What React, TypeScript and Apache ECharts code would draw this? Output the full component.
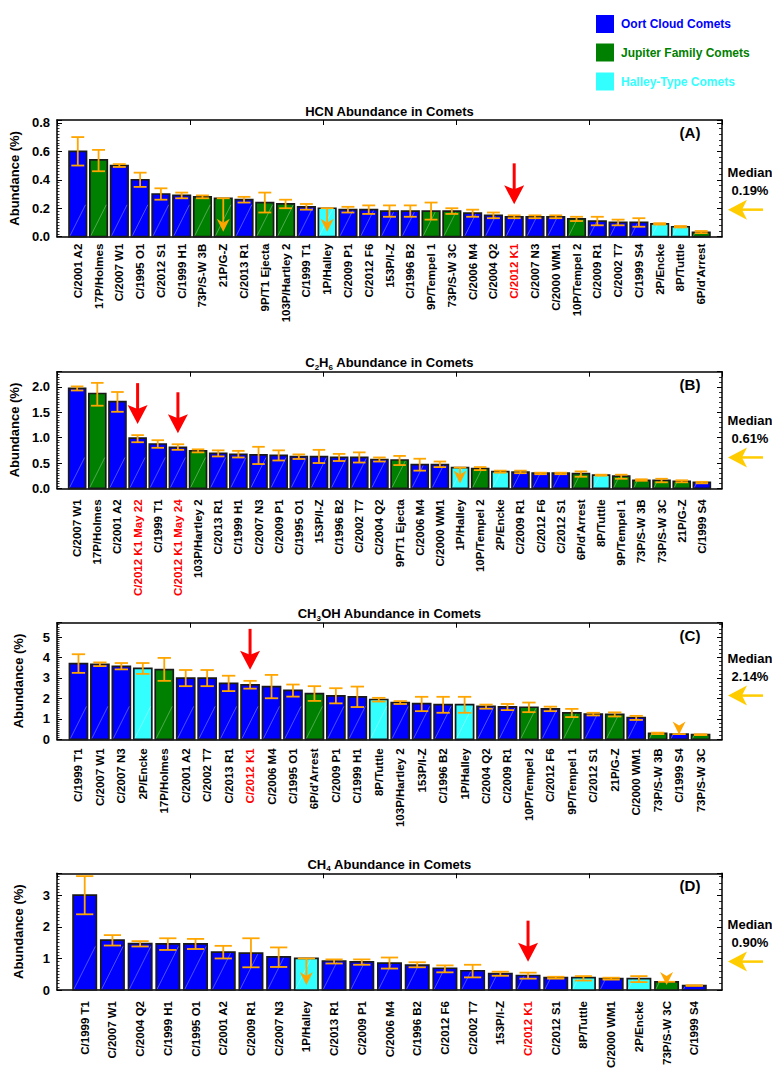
import React, { useEffect, useRef } from 'react';
import * as echarts from 'echarts';

// ---------- DATA ----------
// Comet type codes: O = Oort Cloud, J = Jupiter Family, H = Halley-Type
const hcnNames = ['C/2001 A2', '17P/Holmes', 'C/2007 W1', 'C/1995 O1', 'C/2012 S1', 'C/1999 H1', '73P/S-W 3B', '21P/G-Z', 'C/2013 R1', '9P/T1 Ejecta', '103P/Hartley 2', 'C/1999 T1', '1P/Halley', 'C/2009 P1', 'C/2012 F6', '153P/I-Z', 'C/1996 B2', '9P/Tempel 1', '73P/S-W 3C', 'C/2006 M4', 'C/2004 Q2', 'C/2012 K1', 'C/2007 N3', 'C/2000 WM1', '10P/Tempel 2', 'C/2009 R1', 'C/2002 T7', 'C/1999 S4', '2P/Encke', '8P/Tuttle', "6P/d'Arrest"];
const hcnValues = [0.60, 0.54, 0.50, 0.40, 0.30, 0.29, 0.28, 0.27, 0.26, 0.24, 0.23, 0.21, 0.20, 0.19, 0.19, 0.18, 0.18, 0.18, 0.18, 0.165, 0.15, 0.14, 0.14, 0.14, 0.125, 0.11, 0.10, 0.10, 0.09, 0.07, 0.03];
const hcnLow = [0.50, 0.46, 0.49, 0.35, 0.26, 0.27, 0.27, null, 0.24, 0.17, 0.20, 0.19, null, 0.17, 0.16, 0.14, 0.14, 0.12, 0.16, 0.14, 0.13, 0.13, 0.13, 0.13, 0.11, 0.08, 0.08, 0.07, 0.085, 0.065, 0.025];
const hcnHigh = [0.70, 0.61, 0.51, 0.45, 0.34, 0.31, 0.29, 0.27, 0.28, 0.31, 0.26, 0.23, 0.20, 0.21, 0.22, 0.22, 0.22, 0.24, 0.20, 0.19, 0.17, 0.15, 0.15, 0.15, 0.14, 0.14, 0.12, 0.13, 0.095, 0.075, 0.04];
const hcnTypes = ['O', 'J', 'O', 'O', 'O', 'O', 'J', 'J', 'O', 'J', 'J', 'O', 'H', 'O', 'O', 'O', 'O', 'J', 'J', 'O', 'O', 'O', 'O', 'O', 'J', 'O', 'O', 'O', 'H', 'H', 'J'];
const hcnMedian = 0.19;
const hcnTicks = [0, 0.2, 0.4, 0.6, 0.8];

const c2h6Names = ['C/2007 W1', '17P/Holmes', 'C/2001 A2', 'C/2012 K1 May 22', 'C/1999 T1', 'C/2012 K1 May 24', '103P/Hartley 2', 'C/2013 R1', 'C/1999 H1', 'C/2007 N3', 'C/2009 P1', 'C/1995 O1', '153P/I-Z', 'C/1996 B2', 'C/2002 T7', 'C/2004 Q2', '9P/T1 Ejecta', 'C/2006 M4', 'C/2000 WM1', '1P/Halley', '10P/Tempel 2', '2P/Encke', 'C/2009 R1', 'C/2012 F6', 'C/2012 S1', "6P/d'Arrest", '8P/Tuttle', '9P/Tempel 1', '73P/S-W 3B', '73P/S-W 3C', '21P/G-Z', 'C/1999 S4'];
const c2h6Values = [1.97, 1.87, 1.71, 0.99, 0.875, 0.81, 0.74, 0.69, 0.67, 0.66, 0.65, 0.625, 0.625, 0.61, 0.61, 0.57, 0.56, 0.47, 0.47, 0.41, 0.39, 0.33, 0.32, 0.30, 0.30, 0.29, 0.26, 0.24, 0.16, 0.16, 0.14, 0.12];
const c2h6Low = [1.93, 1.63, 1.51, 0.91, 0.80, 0.76, 0.71, 0.63, 0.61, 0.48, 0.55, 0.58, 0.50, 0.54, 0.51, 0.53, 0.46, 0.35, 0.42, null, 0.36, 0.31, 0.30, 0.28, 0.28, 0.23, 0.25, 0.19, 0.15, 0.12, 0.12, 0.10];
const c2h6High = [2.01, 2.08, 1.90, 1.05, 0.95, 0.87, 0.77, 0.75, 0.74, 0.82, 0.75, 0.67, 0.76, 0.68, 0.71, 0.61, 0.64, 0.585, 0.53, 0.41, 0.42, 0.35, 0.35, 0.31, 0.31, 0.335, 0.27, 0.27, 0.18, 0.19, 0.16, 0.13];
const c2h6Types = ['O', 'J', 'O', 'O', 'O', 'O', 'J', 'O', 'O', 'O', 'O', 'O', 'O', 'O', 'O', 'O', 'J', 'O', 'O', 'H', 'J', 'H', 'O', 'O', 'O', 'J', 'H', 'J', 'J', 'J', 'J', 'O'];
const c2h6Median = 0.61;
const c2h6Ticks = [0, 0.5, 1.0, 1.5, 2.0];

const ch3ohNames = ['C/1999 T1', 'C/2007 W1', 'C/2007 N3', '2P/Encke', '17P/Holmes', 'C/2001 A2', 'C/2002 T7', 'C/2013 R1', 'C/2012 K1', 'C/2006 M4', 'C/1995 O1', "6P/d'Arrest", 'C/2009 P1', 'C/1999 H1', '8P/Tuttle', '103P/Hartley 2', '153P/I-Z', 'C/1996 B2', '1P/Halley', 'C/2004 Q2', 'C/2009 R1', '10P/Tempel 2', 'C/2012 F6', '9P/Tempel 1', 'C/2012 S1', '21P/G-Z', 'C/2000 WM1', '73P/S-W 3B', 'C/1999 S4', '73P/S-W 3C'];
const ch3ohValues = [3.70, 3.67, 3.57, 3.47, 3.41, 2.99, 2.99, 2.74, 2.66, 2.58, 2.39, 2.24, 2.13, 2.08, 1.95, 1.80, 1.75, 1.70, 1.70, 1.61, 1.59, 1.57, 1.49, 1.30, 1.23, 1.22, 1.07, 0.29, 0.26, 0.23];
const ch3ohLow = [3.25, 3.58, 3.42, 3.20, 2.86, 2.60, 2.60, 2.36, 2.48, 2.01, 2.09, 1.88, 1.76, 1.58, 1.85, 1.73, 1.38, 1.30, 1.30, 1.50, 1.43, 1.33, 1.38, 1.09, 1.17, 1.12, 0.95, 0.26, null, 0.21];
const ch3ohHigh = [4.16, 3.76, 3.73, 3.73, 3.98, 3.39, 3.39, 3.11, 2.86, 3.15, 2.68, 2.60, 2.50, 2.58, 2.03, 1.87, 2.08, 2.08, 2.08, 1.70, 1.73, 1.80, 1.60, 1.49, 1.30, 1.32, 1.15, 0.33, 0.26, 0.25];
const ch3ohTypes = ['O', 'O', 'O', 'H', 'J', 'O', 'O', 'O', 'O', 'O', 'O', 'J', 'O', 'O', 'H', 'O', 'O', 'O', 'H', 'O', 'O', 'J', 'O', 'J', 'O', 'J', 'O', 'J', 'O', 'J'];
const ch3ohMedian = 2.14;
const ch3ohTicks = [0, 1, 2, 3, 4, 5];

const ch4Names = ['C/1999 T1', 'C/2007 W1', 'C/2004 Q2', 'C/1999 H1', 'C/1995 O1', 'C/2001 A2', 'C/2009 R1', 'C/2007 N3', '1P/Halley', 'C/2013 R1', 'C/2009 P1', 'C/2006 M4', 'C/1996 B2', 'C/2012 F6', 'C/2002 T7', '153P/I-Z', 'C/2012 K1', 'C/2012 S1', '8P/Tuttle', 'C/2000 WM1', '2P/Encke', '73P/S-W 3C', 'C/1999 S4'];
const ch4Values = [3.01, 1.58, 1.47, 1.46, 1.46, 1.20, 1.17, 1.05, 1.00, 0.92, 0.89, 0.855, 0.79, 0.69, 0.61, 0.52, 0.46, 0.39, 0.39, 0.36, 0.36, 0.26, 0.14];
const ch4Low = [2.40, 1.41, 1.38, 1.27, 1.30, 1.00, 0.72, 0.73, null, 0.84, 0.80, 0.68, 0.72, 0.56, 0.40, 0.45, 0.36, 0.36, 0.30, 0.33, 0.25, null, 0.13];
const ch4High = [3.61, 1.74, 1.55, 1.64, 1.62, 1.40, 1.64, 1.35, 1.00, 0.97, 0.97, 1.03, 0.88, 0.78, 0.80, 0.58, 0.55, 0.42, 0.44, 0.39, 0.44, 0.26, 0.15];
const ch4Types = ['O', 'O', 'O', 'O', 'O', 'O', 'O', 'O', 'H', 'O', 'O', 'O', 'O', 'O', 'O', 'O', 'O', 'O', 'H', 'O', 'H', 'J', 'O'];
const ch4Median = 0.90;
const ch4Ticks = [0, 1, 2, 3];

const legendItems = ['Oort Cloud Comets', 'Jupiter Family Comets', 'Halley-Type Comets'];
const highlightComet = 'C/2012 K1';

// ---------- STYLE / LAYOUT ----------
const FONT = '"Liberation Sans", Arial, Helvetica, sans-serif';
const TYPE_CODES = ['O', 'J', 'H'];
const TYPE_COLORS = ['#0000ff', '#008000', '#33ffff'];
const ORANGE = '#ffa500';
const GOLD = '#ffcc00';
const RED = '#ff0000';

const panels = [
  { names: hcnNames, values: hcnValues, low: hcnLow, high: hcnHigh, types: hcnTypes, median: hcnMedian, ticks: hcnTicks, yMax: 0.82, decimals: 1, title: 'HCN Abundance in Comets', tag: '(A)', top: 120, labelMargin: 7 },
  { names: c2h6Names, values: c2h6Values, low: c2h6Low, high: c2h6High, types: c2h6Types, median: c2h6Median, ticks: c2h6Ticks, yMax: 2.3, decimals: 1, title: 'C{s|2}H{s|6} Abundance in Comets', tag: '(B)', top: 371.7, labelMargin: 11 },
  { names: ch3ohNames, values: ch3ohValues, low: ch3ohLow, high: ch3ohHigh, types: ch3ohTypes, median: ch3ohMedian, ticks: ch3ohTicks, yMax: 5.7, decimals: 0, title: 'CH{s|3}OH Abundance in Comets', tag: '(C)', top: 622.7, labelMargin: 9 },
  { names: ch4Names, values: ch4Values, low: ch4Low, high: ch4High, types: ch4Types, median: ch4Median, ticks: ch4Ticks, yMax: 3.7, decimals: 0, title: 'CH{s|4} Abundance in Comets', tag: '(D)', top: 873.3, labelMargin: 11 },
];

const GRID_LEFT = 57;
const GRID_RIGHT = 50;
const GRID_HEIGHT = 116.7;

function barRender(params: any, api: any) {
  const i = api.value(0);
  const v = api.value(1);
  const lo = api.value(2);
  const hi = api.value(3);
  const t = api.value(4);
  const lim = api.value(5);
  const mk = api.value(6);
  const base = api.coord([i, 0]);
  const top = api.coord([i, v]);
  const bw = api.size([0.84, 0])[0];
  const cx = top[0];
  const x0 = cx - bw / 2;
  const h = base[1] - top[1];
  const children: any[] = [];
  children.push({
    type: 'rect',
    shape: { x: x0, y: top[1], width: bw, height: h },
    style: { fill: TYPE_COLORS[t], stroke: '#1a1a1a', lineWidth: 1.7 },
  });
  const dx = Math.min(bw - 2, (h - 2) / 2);
  if (dx > 0) {
    children.push({
      type: 'line',
      shape: { x1: x0 + 1, y1: base[1] - 1, x2: x0 + 1 + dx, y2: base[1] - 1 - 2 * dx },
      style: { stroke: 'rgba(255,255,255,0.45)', lineWidth: 0.7 },
    });
  }
  const yHi = api.coord([i, hi])[1];
  const cw = bw * 0.37;
  const es = { stroke: ORANGE, lineWidth: 1.8 };
  if (lim) {
    const tip = base[1] - 5;
    children.push({ type: 'line', shape: { x1: cx - cw, y1: yHi, x2: cx + cw, y2: yHi }, style: es });
    if (tip - 9 > yHi) {
      children.push({ type: 'line', shape: { x1: cx, y1: yHi, x2: cx, y2: tip - 9 }, style: es });
    }
    children.push({
      type: 'polygon',
      shape: { points: [[cx - 6.5, tip - 13], [cx, tip - 9], [cx + 6.5, tip - 13], [cx, tip]] },
      style: { fill: ORANGE },
    });
  } else {
    const yLo = api.coord([i, lo])[1];
    children.push({ type: 'line', shape: { x1: cx, y1: yHi, x2: cx, y2: yLo }, style: es });
    children.push({ type: 'line', shape: { x1: cx - cw, y1: yHi, x2: cx + cw, y2: yHi }, style: es });
    children.push({ type: 'line', shape: { x1: cx - cw, y1: yLo, x2: cx + cw, y2: yLo }, style: es });
  }
  if (mk) {
    const tip = Math.min(top[1], yHi) - 11;
    children.push({ type: 'line', shape: { x1: cx, y1: tip - 41, x2: cx, y2: tip - 14 }, style: { stroke: RED, lineWidth: 3 } });
    children.push({
      type: 'polygon',
      shape: { points: [[cx, tip], [cx - 10, tip - 19], [cx, tip - 15], [cx + 10, tip - 19]] },
      style: { fill: RED },
    });
  }
  return { type: 'group', children };
}

function medianRender(params: any, api: any) {
  const p = api.coord([api.value(0), api.value(1)]);
  const gx = p[0];
  const y = p[1];
  const m = api.value(1);
  const txt = { fill: '#000', fontSize: 13, fontWeight: 'bold', fontFamily: FONT, align: 'center', verticalAlign: 'middle' };
  return {
    type: 'group',
    children: [
      { type: 'line', shape: { x1: gx + 20, y1: y, x2: gx + 41, y2: y }, style: { stroke: GOLD, lineWidth: 2.5 } },
      { type: 'polygon', shape: { points: [[gx + 6, y], [gx + 25, y - 10], [gx + 20, y], [gx + 25, y + 10]] }, style: { fill: GOLD } },
      { type: 'text', x: gx + 28, y: y - 37, style: { ...txt, text: 'Median' } },
      { type: 'text', x: gx + 28, y: y - 19, style: { ...txt, text: m.toFixed(2) + '%' } },
    ],
  };
}

function buildOption() {
  const grid: any[] = [];
  const xAxis: any[] = [];
  const yAxis: any[] = [];
  const series: any[] = [];
  const graphic: any[] = [];
  const axisLineStyle = { color: '#000', width: 1.5 };

  panels.forEach((p, k) => {
    const n = p.names.length;
    const interval = p.ticks[1] - p.ticks[0];
    grid.push({ left: GRID_LEFT, right: GRID_RIGHT, top: p.top, height: GRID_HEIGHT });
    xAxis.push({
      gridIndex: k, type: 'value', min: -1, max: n, interval: 1, position: 'bottom',
      axisLine: { show: true, onZero: false, lineStyle: axisLineStyle },
      axisTick: { show: false }, splitLine: { show: false },
      axisLabel: {
        rotate: 90, margin: p.labelMargin, fontSize: 11.5, fontWeight: 'bold', fontFamily: FONT, color: '#000',
        formatter: (val: number) => {
          const j = Math.round(val);
          if (Math.abs(val - j) > 1e-6 || j < 0 || j >= n) return '';
          const nm = p.names[j];
          return nm.startsWith(highlightComet) ? `{r|${nm}}` : `{k|${nm}}`;
        },
        rich: {
          r: { color: RED, fontSize: 11.5, fontWeight: 'bold', fontFamily: FONT },
          k: { color: '#000', fontSize: 11.5, fontWeight: 'bold', fontFamily: FONT },
        },
      },
    });
    xAxis.push({
      gridIndex: k, type: 'value', min: 0, max: 5, interval: 1, position: 'top',
      axisLine: { show: true, onZero: false, lineStyle: axisLineStyle },
      axisTick: { show: true, inside: true, length: 5, lineStyle: { color: '#000', width: 1 } },
      axisLabel: { show: false }, splitLine: { show: false },
    });
    yAxis.push({
      gridIndex: k, type: 'value', min: 0, max: p.yMax, interval, position: 'left',
      axisLine: { show: true, onZero: false, lineStyle: axisLineStyle },
      axisTick: { show: true, inside: true, length: 5, lineStyle: { color: '#000', width: 1 } },
      minorTick: { show: true, splitNumber: 10, length: 2.5, lineStyle: { color: '#000', width: 0.8 } },
      splitLine: { show: false },
      axisLabel: {
        showMaxLabel: false, margin: 7, fontSize: 13, fontWeight: 'bold', fontFamily: FONT, color: '#000',
        formatter: (v: number) => v.toFixed(p.decimals),
      },
      name: 'Abundance (%)', nameLocation: 'middle', nameGap: 32,
      nameTextStyle: { fontSize: 13, fontWeight: 'bold', fontFamily: FONT, color: '#000' },
    });
    yAxis.push({
      gridIndex: k, type: 'value', min: 0, max: p.yMax, interval, position: 'right',
      axisLine: { show: true, onZero: false, lineStyle: axisLineStyle },
      axisTick: { show: true, inside: true, length: 5, lineStyle: { color: '#000', width: 1 } },
      minorTick: { show: true, splitNumber: 5, length: 3, lineStyle: { color: '#000', width: 0.8 } },
      splitLine: { show: false }, axisLabel: { show: false },
    });

    const data = p.names.map((nm, j) => {
      const lowVal = p.low[j];
      return [
        j, p.values[j], lowVal == null ? p.values[j] : lowVal, p.high[j],
        TYPE_CODES.indexOf(p.types[j]), lowVal == null ? 1 : 0, nm.startsWith(highlightComet) ? 1 : 0,
      ];
    });
    series.push({
      type: 'custom', xAxisIndex: 2 * k, yAxisIndex: 2 * k, clip: false, silent: true,
      encode: { x: 0, y: 1 }, renderItem: barRender, data,
    });
    series.push({
      type: 'custom', xAxisIndex: 2 * k, yAxisIndex: 2 * k, clip: false, silent: true,
      encode: { x: 0, y: 1 }, renderItem: medianRender, data: [[n, p.median]],
    });

    graphic.push({
      type: 'text', x: GRID_LEFT + (772 - GRID_LEFT - GRID_RIGHT) / 2, y: p.top - 9,
      style: {
        text: p.title, fill: '#000', fontSize: 13, fontWeight: 'bold', fontFamily: FONT,
        align: 'center', verticalAlign: 'middle', lineHeight: 17,
        rich: { s: { fontSize: 8, fontWeight: 'bold', fontFamily: FONT, fill: '#000', verticalAlign: 'bottom', lineHeight: 8 } },
      },
    });
    graphic.push({
      type: 'text', x: 690, y: p.top + 12.5,
      style: { text: p.tag, fill: '#000', fontSize: 15, fontWeight: 'bold', fontFamily: FONT, align: 'center', verticalAlign: 'middle' },
    });
  });

  const legendY = [15, 43.5, 72.5];
  legendItems.forEach((name, j) => {
    graphic.push({ type: 'rect', shape: { x: 596, y: legendY[j], width: 18, height: 18 }, style: { fill: TYPE_COLORS[j] } });
    graphic.push({
      type: 'text', x: 621, y: legendY[j] + 9,
      style: { text: name, fill: TYPE_COLORS[j], fontSize: 12, fontWeight: 'bold', fontFamily: FONT, align: 'left', verticalAlign: 'middle' },
    });
  });

  return { animation: false, backgroundColor: '#fff', grid, xAxis, yAxis, series, graphic };
}

export default function App() {
  const ref = useRef<HTMLDivElement>(null);
  useEffect(() => {
    const chart = echarts.init(ref.current as HTMLDivElement, undefined, { renderer: 'svg' });
    chart.setOption(buildOption() as any);
    return () => chart.dispose();
  }, []);
  return <div ref={ref} style={{ position: 'absolute', left: 0, top: 0, width: 772, height: 1084, background: '#fff' }} />;
}
